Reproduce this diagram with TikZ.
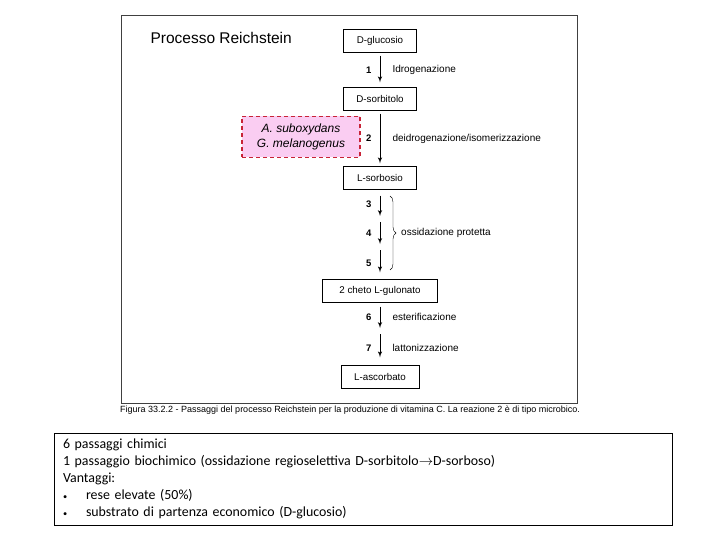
\documentclass[tikz,border=0pt]{standalone}
\usepackage{fontspec}
\setmainfont{Liberation Sans}
\newfontfamily\notefont{Carlito}
\usetikzlibrary{arrows,decorations.pathreplacing}
\definecolor{microbepink}{RGB}{250,205,242}
\definecolor{microbered}{RGB}{200,35,55}

\begin{document}
\begin{tikzpicture}[x=1pt,y=-1pt]
\useasboundingbox (0,0) rectangle (720,540);

\tikzset{compound/.style = {shape=rectangle,draw,thin,minimum width=73pt,minimum height=23pt,inner sep=0pt,font=\fontsize{9.8}{11}\selectfont}}
\tikzset{microbe/.style = {shape=rectangle,draw=microbered,dash pattern=on 4pt off 3pt,line width=1.3pt,fill=microbepink,minimum width=118pt,minimum height=41pt,align=center,font=\fontsize{12}{15}\selectfont\itshape}}
\tikzset{reaction/.style = {->,> = latex',line width=1pt}}
\tikzset{stepnum/.style = {left,inner sep=0pt,xshift=-8pt,font=\fontsize{9.5}{11}\selectfont\bfseries}}
\tikzset{steptext/.style = {right,inner sep=0pt,xshift=12pt,font=\fontsize{10}{11}\selectfont}}
%\tikzset{reaction/.style = {->,> = stealth}}
% frame of the figure
\draw[line width=0.8pt,black!75] (121,15) rectangle (577,403);
\node[anchor=west,font=\fontsize{15.5}{17}\selectfont] (title) at (147,38) {Processo Reichstein};
% compounds
\node[compound] (glucosio) at (380,41) {D-glucosio};
\node[compound] (sorbitolo) at (380,99) {D-sorbitolo};
\node[compound] (sorbosio) at (380,178) {L-sorbosio};
\node[compound,minimum width=115pt] (gulonato) at (380,291) {2 cheto L-gulonato};
\node[compound,minimum width=78pt] (ascorbato) at (380,377) {L-ascorbato};
\node[microbe] (microbi) at (301,137) {A. suboxydans\\G. melanogenus};
\coordinate (s3) at (380,219);
\coordinate (s4) at (380,247);
\coordinate (s6) at (380,331);
% reactions
\draw[reaction,shorten <=3pt,shorten >=5pt] (glucosio) to node[stepnum]{1} node[steptext]{Idrogenazione} (sorbitolo);
\draw[reaction,shorten <=3pt,shorten >=3pt] (sorbitolo) to node[stepnum]{2} node[steptext]{deidrogenazione/isomerizzazione} (sorbosio);
\draw[reaction,shorten <=6pt,shorten >=3pt] (sorbosio) to node[stepnum]{3} (s3);
\draw[reaction,shorten <=3pt,shorten >=3pt] (s3) to node[stepnum]{4} (s4);
\draw[reaction,shorten <=3pt,shorten >=7pt] (s4) to node[stepnum]{5} (gulonato);
\draw[reaction,shorten <=4pt,shorten >=3pt] (gulonato) to node[stepnum]{6} node[steptext]{esterificazione} (s6);
\draw[reaction,shorten <=3pt,shorten >=8pt] (s6) to node[stepnum]{7} node[steptext]{lattonizzazione} (ascorbato);
\coordinate (bracetop) at (390,196);
\coordinate (bracebot) at (390,270);
\draw[thin,decorate,decoration={brace,amplitude=6pt}] (bracetop) -- (bracebot) node[midway,right,xshift=11pt,inner sep=0pt,font=\fontsize{10}{11}\selectfont] (protetta) {ossidazione protetta};
% caption and notes
\node[anchor=west,inner sep=0pt,font=\fontsize{9}{10}\selectfont] (caption) at (120,410) {Figura 33.2.2 - Passaggi del processo Reichstein per la produzione di vitamina C. La reazione 2 è di tipo microbico.};
\node[draw,thin,minimum width=618pt,minimum height=92pt,text width=600pt,inner xsep=9pt,align=left,font=\notefont\fontsize{13.9}{16.9}\selectfont] (note) at (363,479) {6 passaggi chimici\\
1 passaggio biochimico (ossidazione regioselettiva D-sorbitolo$\rightarrow$D-sorboso)\\
Vantaggi:\\
\makebox[23pt][l]{\scalebox{0.6}{•}}rese elevate (50\%)\\
\makebox[23pt][l]{\scalebox{0.6}{•}}substrato di partenza economico (D-glucosio)};
\end{tikzpicture}
\end{document}
